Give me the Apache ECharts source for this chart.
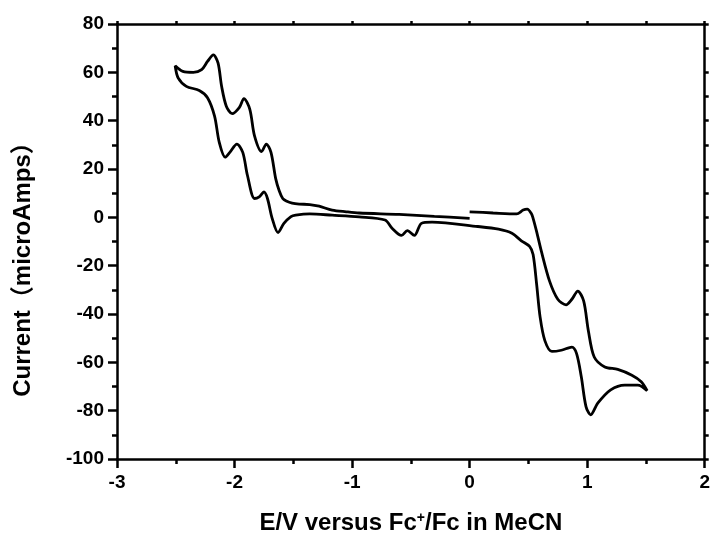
<!DOCTYPE html>
<html>
<head>
<meta charset="utf-8">
<script src="https://cdn.jsdelivr.net/npm/echarts@6/dist/echarts.min.js"></script>
<style>html,body{margin:0;padding:0;background:#fff}#c{width:713px;height:540px}</style>
</head>
<body>
<div id="c"></div>
<script>
// Potential (V) and current (microAmps), in scan order
const scanUpperLeft = [
  [0.0, -0.4], [-0.3, 0.4], [-0.6, 1.2], [-0.94, 1.8], [-1.05, 2.3], [-1.17, 3.0], [-1.28, 4.6],
  [-1.36, 5.3], [-1.45, 5.5], [-1.51, 5.9], [-1.56, 6.8], [-1.59, 7.8], [-1.62, 11], [-1.65, 16],
  [-1.69, 26.9], [-1.73, 30.3], [-1.77, 27.2], [-1.83, 33.7], [-1.87, 44.7], [-1.92, 49.1],
  [-1.96, 45.4], [-2.02, 42.9], [-2.07, 46], [-2.11, 54.2], [-2.14, 63.8], [-2.18, 67.2],
  [-2.23, 64.5], [-2.28, 61.1], [-2.35, 60.0], [-2.44, 60.4], [-2.505, 62.7]
];
const scanLower = [
  [-2.48, 57.7], [-2.41, 54.2], [-2.30, 52.5], [-2.23, 49.5], [-2.17, 41.9], [-2.13, 31],
  [-2.08, 24.9], [-2.04, 26.9], [-1.98, 30.3], [-1.93, 26.9], [-1.89, 17.3], [-1.83, 7.8],
  [-1.79, 8.5], [-1.75, 10.5], [-1.72, 7.8], [-1.68, -0.4], [-1.63, -6.3], [-1.58, -2.5],
  [-1.52, 0.3], [-1.48, 0.9], [-1.36, 1.4], [-1.17, 0.9], [-0.94, 0.2], [-0.72, -1.1],
  [-0.66, -4.5], [-0.58, -7.5], [-0.53, -5.5], [-0.47, -7.5], [-0.41, -2.5], [-0.32, -2.0],
  [0.07, -3.8], [0.246, -4.9], [0.36, -6.6], [0.44, -9.7], [0.51, -12], [0.54, -15.4],
  [0.57, -27.7], [0.60, -41.4], [0.64, -51], [0.70, -55.5], [0.78, -55], [0.87, -53.7],
  [0.91, -56.4], [0.95, -66], [0.99, -78.3], [1.03, -81.7], [1.09, -76.9], [1.20, -71.4],
  [1.32, -69.4], [1.43, -69.4], [1.51, -71.7]
];
const scanUpperRight = [
  [1.46, -68], [1.38, -65.3], [1.26, -62.9], [1.15, -61.9], [1.06, -57.8], [1.01, -46.9],
  [0.97, -34.6], [0.92, -30.5], [0.87, -33.9], [0.82, -36.2], [0.75, -33.9], [0.68, -26.4],
  [0.61, -14], [0.57, -5.9], [0.54, -0.4], [0.525, 1.6], [0.49, 3.4], [0.455, 3.0],
  [0.40, 1.4], [0.2, 1.8], [0.0, 2.3]
];
const xTicks = { min: -3, max: 2, step: 1 };
const yTicks = { min: -100, max: 80, step: 20 };

const FONT = "'Liberation Sans', Arial, 'Noto Sans CJK SC', sans-serif";
const chart = echarts.init(document.getElementById('c'), null, { renderer: 'canvas' });
const lineStyle = { color: '#000', width: 2.5 };
chart.setOption({
  animation: false,
  backgroundColor: '#fff',
  grid: { left: 117, right: 6, top: 24, bottom: 77, containLabel: false },
  xAxis: [{
    type: 'value', position: 'bottom', min: xTicks.min, max: xTicks.max, interval: xTicks.step,
    axisLine: { show: true, onZero: false, lineStyle: lineStyle },
    axisTick: { show: true, inside: false, length: 9, lineStyle: lineStyle },
    minorTick: { show: true, splitNumber: 2, length: 5, lineStyle: lineStyle },
    splitLine: { show: false },
    axisLabel: { margin: 14, color: '#000', fontSize: 19, fontWeight: 'bold', fontFamily: FONT },
    name: 'E/V versus Fc{sup|+}/Fc in MeCN',
    nameLocation: 'middle', nameGap: 52,
    nameTextStyle: {
      color: '#000', fontSize: 24, fontWeight: 'bold', fontFamily: FONT,
      rich: { sup: { fontSize: 14, fontWeight: 'bold', fontFamily: FONT, color: '#000', verticalAlign: 'top', padding: [0, 0, 10, 0] } }
    }
  }, {
    type: 'value', position: 'top', min: xTicks.min, max: xTicks.max, interval: 0.5,
    axisLine: { show: true, onZero: false, lineStyle: lineStyle },
    axisTick: { show: true, inside: false, length: 3, lineStyle: lineStyle },
    splitLine: { show: false }, axisLabel: { show: false }
  }],
  yAxis: [{
    type: 'value', position: 'left', min: yTicks.min, max: yTicks.max, interval: yTicks.step,
    axisLine: { show: true, onZero: false, lineStyle: lineStyle },
    axisTick: { show: true, inside: false, length: 9, lineStyle: lineStyle },
    minorTick: { show: true, splitNumber: 2, length: 5, lineStyle: lineStyle },
    splitLine: { show: false },
    axisLabel: { margin: 13, color: '#000', fontSize: 19, fontWeight: 'bold', fontFamily: FONT },
    name: 'Current（microAmps）',
    nameLocation: 'middle', nameGap: 82, nameRotate: 90,
    nameTextStyle: { color: '#000', fontSize: 24, fontWeight: 'bold', fontFamily: FONT, padding: [0, 44, 0, 0] }
  }, {
    type: 'value', position: 'right', min: yTicks.min, max: yTicks.max, interval: 10,
    axisLine: { show: true, onZero: false, lineStyle: lineStyle },
    axisTick: { show: true, inside: false, length: 4, lineStyle: lineStyle },
    splitLine: { show: false }, axisLabel: { show: false }
  }],
  series: [{
    type: 'line', xAxisIndex: 0, yAxisIndex: 0,
    data: scanUpperLeft.concat(scanLower, scanUpperRight),
    showSymbol: false, smooth: 0.3,
    lineStyle: { color: '#000', width: 2.8 }
  }]
});
</script>
</body>
</html>
